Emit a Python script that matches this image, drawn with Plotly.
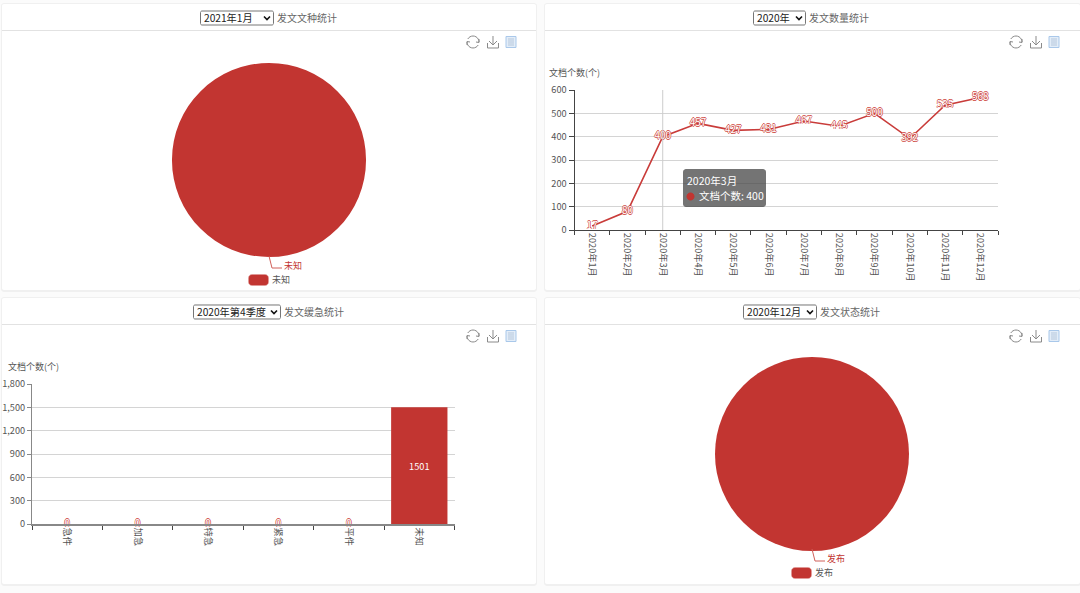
import math
import plotly.graph_objects as go

W, H = 1080, 593
FONT = "Noto Sans CJK SC"
RED = "#c23531"

# ---- data ----
months = ["2020年1月", "2020年2月", "2020年3月", "2020年4月", "2020年5月", "2020年6月",
          "2020年7月", "2020年8月", "2020年9月", "2020年10月", "2020年11月", "2020年12月"]
month_counts = [17, 80, 400, 457, 427, 431, 467, 445, 500, 392, 535, 568]
urgency = ["急件", "加急", "特急", "紧急", "平件", "未知"]
urgency_counts = [0, 0, 0, 0, 0, 1501]
kind_labels = ["未知"]
kind_values = [1]
status_labels = ["发布"]
status_values = [1]
y_title = "文档个数(个)"
panel_titles = ["发文文种统计", "发文数量统计", "发文缓急统计", "发文状态统计"]
selects = ["2021年1月", "2020年", "2020年第4季度", "2020年12月"]


def px(x):
    return x / W


def py(y):
    return 1 - y / H


def path(points, close=False):
    s = "M" + " L".join(f"{px(x):.5f},{py(y):.5f}" for x, y in points)
    return s + (" Z" if close else "")


def rrect(x0, y0, x1, y1, r):
    pts = []
    for cx, cy, a0 in [(x1 - r, y0 + r, -90), (x1 - r, y1 - r, 0), (x0 + r, y1 - r, 90), (x0 + r, y0 + r, 180)]:
        for k in range(5):
            a = math.radians(a0 + k * 22.5)
            pts.append((cx + r * math.cos(a), cy + r * math.sin(a)))
    return path(pts, True)


shapes = []
annotations = []


def add_path(d, line="#888", width=1, fill=None, layer="above"):
    s = dict(type="path", xref="paper", yref="paper", path=d, layer=layer,
             line=dict(color=line, width=width))
    if fill:
        s["fillcolor"] = fill
    shapes.append(s)


def add_text(x, y, text, size=10.5, color="#555", anchor="left", **kw):
    annotations.append(dict(x=px(x), y=py(y - 1), xref="paper", yref="paper", text=text, showarrow=False,
                            xanchor=anchor, yanchor="middle", borderpad=0,
                            font=dict(family=FONT, size=size, color=color), **kw))


# ---- cards, headers, selects, toolbox ----
cards = [(2, 4, 536, 290), (545, 4, 1080, 290), (2, 298, 536, 584), (545, 298, 1080, 584)]
sel_boxes = [(200, 273), (753, 805), (193, 280), (743, 816)]
title_x = [276, 808, 283, 819]
icon_x = [(473, 493, 511), (1016, 1036, 1054), (473, 493, 511), (1016, 1036, 1054)]

for i, (x0, y0, x1, y1) in enumerate(cards):
    add_path(rrect(x0 - 1, y0 - 1, x1 + 1, y1 + 2, 3), line="rgba(0,0,0,0)", fill="#f0f0f0", layer="below")
    add_path(rrect(x0, y0, x1, y1, 2), line="rgba(0,0,0,0)", fill="#ffffff", layer="below")
    add_path(path([(x0, y0 + 26.5), (x1, y0 + 26.5)]), line="#e2e2e2", layer="below")
    cy = y0 + 14
    sx0, sx1 = sel_boxes[i]
    add_path(rrect(sx0 + .5, cy - 7, sx1 + .5, cy + 7, 1.5), line="#767676", fill="#ffffff")
    add_text(sx0 + 3, cy, selects[i], size=10.2, color="#222")
    add_path(path([(sx1 - 9, cy - 1.5), (sx1 - 6, cy + 1.5), (sx1 - 3, cy - 1.5)]), line="#111", width=1.6)
    add_text(title_x[i], cy, panel_titles[i], size=10, color="#666")

    ix0, ix1, ix2 = icon_x[i]
    iy = y0 + 38
    # restore
    r = 6
    add_path(path([(ix0 + r * math.cos(math.radians(a)), iy + r * math.sin(math.radians(a))) for a in range(-150, 15, 15)]), line="#8a8a8a")
    add_path(path([(ix0 + r * math.cos(math.radians(a)), iy + r * math.sin(math.radians(a))) for a in range(30, 195, 15)]), line="#8a8a8a")
    add_path(path([(ix0 + 6, iy - 3), (ix0 + 6, iy + .5), (ix0 + 3, iy)]), line="#8a8a8a")
    add_path(path([(ix0 - 6, iy + 3), (ix0 - 6, iy - .5), (ix0 - 3, iy)]), line="#8a8a8a")
    # download
    add_path(path([(ix1 - 5.5, iy + 1), (ix1 - 5.5, iy + 6), (ix1 + 5.5, iy + 6), (ix1 + 5.5, iy + 1)]), line="#8a8a8a")
    add_path(path([(ix1, iy - 6), (ix1, iy + 3)]), line="#8a8a8a")
    add_path(path([(ix1 - 4, iy - 1), (ix1, iy + 3), (ix1 + 4, iy - 1)]), line="#8a8a8a")
    # data view
    add_path(path([(ix2 - 5, iy - 5.5), (ix2 + 5, iy - 5.5), (ix2 + 5, iy + 5.5), (ix2 - 5, iy + 5.5)], True),
             line="#a9c8ea", fill="#e3edf8")
    for dy in (-3, -1, 1, 3):
        add_path(path([(ix2 - 3, iy + dy), (ix2 + 3, iy + dy)]), line="#b5c7dc")


# ---- pies' leader lines and legends ----
def pie_extras(cx, bottom, label):
    add_path(path([(cx, bottom - 1), (cx + 3, bottom + 11), (cx + 13, bottom + 11)]), line="#d0605a")
    add_text(cx + 14, bottom + 9.5, label, size=9, color=RED)
    add_path(rrect(cx - 20, bottom + 18, cx - 1, bottom + 28, 2.5), line=RED, fill=RED)
    add_text(cx + 2, bottom + 23, label, size=9, color="#555")


pie_extras(269, 257, kind_labels[0])
pie_extras(812, 550, status_labels[0])

# ---- axis titles ----
add_text(548, 73.5, y_title, size=9)
add_text(7, 367, y_title, size=9)

fig = go.Figure()


def dom(x0, x1, y_top, y_bot):
    return [px(x0), px(x1)], [py(y_bot), py(y_top)]


tick_font = dict(family=FONT, size=9.2, color="#555")
OUT = "#d0504a"
LABEL_FONT = dict(family=FONT, size=10, color="#fff",
                  shadow=f"0.7px 0 0 {OUT}, -0.7px 0 0 {OUT}, 0 0.7px 0 {OUT}, 0 -0.7px 0 {OUT}")

# pies
for labels, values, (dx, dy) in [(kind_labels, kind_values, dom(172, 366, 63, 257)),
                                 (status_labels, status_values, dom(715, 909, 357, 551))]:
    fig.add_trace(go.Pie(labels=labels, values=values, domain=dict(x=dx, y=dy), textinfo="none",
                         marker=dict(colors=[RED], line=dict(width=0)), sort=False,
                         showlegend=False, hoverinfo="label+value"))

# line chart
dx, dy = dom(574.5, 998, 90, 230)
fig.add_trace(go.Scatter(x=months, y=month_counts, mode="lines+text", text=[str(v) for v in month_counts],
                         textposition="middle center", textfont=LABEL_FONT,
                         line=dict(color="#c93c3a", width=1.6), xaxis="x", yaxis="y",
                         cliponaxis=False, showlegend=False))
axis_common = dict(type="category", tickson="boundaries", ticks="outside", ticklen=4, tickcolor="#444",
                   tickangle=90, showgrid=False, showline=True, linecolor="#444", linewidth=1,
                   tickfont=tick_font, automargin=False)
fig.update_layout(
    xaxis=dict(axis_common, domain=dx, range=[-0.5, 11.5], anchor="y", categoryorder="array", categoryarray=months),
    yaxis=dict(domain=dy, range=[0, 600], dtick=100, anchor="x", ticks="outside", ticklen=5, tickcolor="#444",
               showline=True, linecolor="#444", gridcolor="#d4d4d4", zeroline=False, tickfont=tick_font,
               automargin=False),
)
shapes.append(dict(type="line", xref="x", yref="paper", x0=months[2], x1=months[2], y0=py(90), y1=py(230),
                   line=dict(color="#cccccc", width=1), layer="above"))

# bar chart
dx, dy = dom(32, 454.5, 384, 524)
fig.add_trace(go.Bar(x=urgency, y=urgency_counts, marker=dict(color=RED, line=dict(width=0)),
                     text=[str(v) if v else "" for v in urgency_counts], textposition="inside",
                     insidetextanchor="middle", insidetextfont=dict(family=FONT, size=9.2, color="#fff"),
                     textangle=0, xaxis="x2", yaxis="y2", showlegend=False, width=0.8))
zero_x = [c for c, v in zip(urgency, urgency_counts) if v == 0]
zero_y = [v for v in urgency_counts if v == 0]
fig.add_trace(go.Scatter(x=zero_x, y=zero_y, mode="text", text=[str(v) for v in zero_y],
                         textposition="middle center", textfont=LABEL_FONT, xaxis="x2", yaxis="y2",
                         cliponaxis=False, showlegend=False))
fig.update_layout(
    xaxis2=dict(axis_common, domain=dx, range=[-0.5, 5.5], anchor="y2", linecolor="#888", linewidth=1.5,
                tickcolor="#444", categoryorder="array", categoryarray=urgency),
    yaxis2=dict(domain=dy, range=[0, 1800], dtick=300, tickformat=",d", anchor="x2", ticks="outside", ticklen=4,
                tickcolor="#888", showline=True, linecolor="#888", gridcolor="#d4d4d4", zeroline=False,
                tickfont=tick_font, automargin=False),
)

# tooltip
add_path(rrect(683, 169, 766, 207, 3), line="rgba(0,0,0,0)", fill="rgba(70,70,70,0.75)")
add_text(686, 181, months[2], size=10.5, color="#fff")
add_path(rrect(687, 193, 694, 200, 3.4), line=RED, fill=RED)
add_text(698, 197, f"文档个数: {month_counts[2]}", size=10.5, color="#fff")

fig.update_layout(width=W, height=H, autosize=False, margin=dict(l=0, r=0, t=0, b=0, pad=0),
                  paper_bgcolor="#fbfbfb", plot_bgcolor="rgba(0,0,0,0)", shapes=shapes,
                  annotations=annotations, showlegend=False, bargap=0.2,
                  font=dict(family=FONT))

fig.write_html("out.html", config=dict(displayModeBar=False),
               post_script="document.body.style.margin='0';document.body.style.overflow='hidden';")
